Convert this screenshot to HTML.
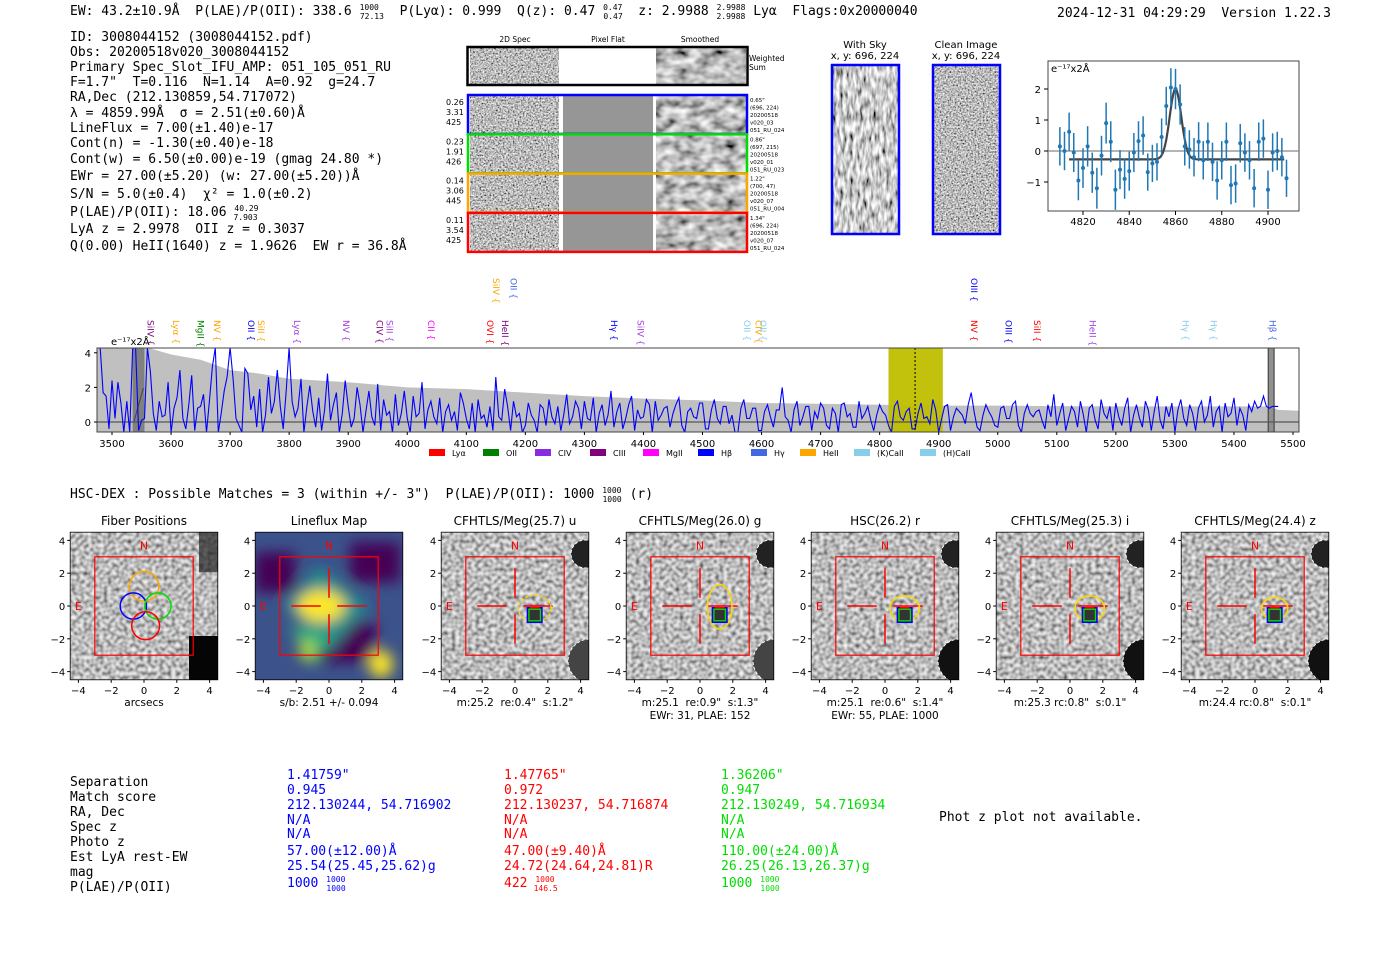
<!DOCTYPE html>
<html><head><meta charset="utf-8">
<style>
html,body{margin:0;padding:0;background:#fff;}
svg{display:block;font-family:"DejaVu Sans Mono","Liberation Mono",monospace;}
.s{font-family:"DejaVu Sans","Liberation Sans",sans-serif;}
</style></head>
<body>
<svg id="fig" width="1400" height="953" viewBox="0 0 1400 953" xmlns="http://www.w3.org/2000/svg">
<defs>
<filter id="gn" x="0" y="0" width="100%" height="100%"><feTurbulence type="fractalNoise" baseFrequency="0.6" numOctaves="2" seed="5" result="t"/><feColorMatrix in="t" type="matrix" values="1.6 0 0 0 -0.3  1.6 0 0 0 -0.3  1.6 0 0 0 -0.3  0 0 0 0 1"/><feColorMatrix type="saturate" values="0"/></filter>
<filter id="gs" x="0" y="0" width="100%" height="100%"><feTurbulence type="fractalNoise" baseFrequency="0.08 0.12" numOctaves="2" seed="8"/><feColorMatrix type="matrix" values="1.4 0 0 0 -0.2  1.4 0 0 0 -0.2  1.4 0 0 0 -0.2  0 0 0 0 1"/><feColorMatrix type="saturate" values="0"/></filter>
<filter id="gp" x="0" y="0" width="100%" height="100%"><feTurbulence type="fractalNoise" baseFrequency="0.25" numOctaves="1" seed="11"/><feColorMatrix type="matrix" values="1.3 0 0 0 -0.15  1.3 0 0 0 -0.15  1.3 0 0 0 -0.15  0 0 0 0 1"/><feColorMatrix type="saturate" values="0"/></filter>
<filter id="sky" x="0" y="0" width="100%" height="100%"><feTurbulence type="fractalNoise" baseFrequency="0.3 0.09" numOctaves="2" seed="2"/><feColorMatrix type="matrix" values="1.8 0 0 0 -0.3  1.8 0 0 0 -0.3  1.8 0 0 0 -0.3  0 0 0 0 1"/><feColorMatrix type="saturate" values="0"/></filter>
<filter id="bl"><feGaussianBlur stdDeviation="7"/></filter>
</defs>

<g font-size="13">
<text x="70" y="15">EW: 43.2±10.9Å &#160;P(LAE)/P(OII): 338.6 <tspan font-size="8" dy="-5">1000</tspan><tspan font-size="8" dx="-19" dy="9">72.13</tspan><tspan dy="-4"> &#160;P(Lyα): 0.999 &#160;Q(z): 0.47 </tspan><tspan font-size="8" dy="-5">0.47</tspan><tspan font-size="8" dx="-19" dy="9">0.47</tspan><tspan dy="-4"> &#160;z: 2.9988 </tspan><tspan font-size="8" dy="-5">2.9988</tspan><tspan font-size="8" dx="-29" dy="9">2.9988</tspan><tspan dy="-4"> Lyα &#160;Flags:0x20000040</tspan></text>
<text x="1057" y="17">2024-12-31 04:29:29 &#160;Version 1.22.3</text>
</g>
<g font-size="13">
<text x="70" y="41">ID: 3008044152 (3008044152.pdf)</text>
<text x="70" y="56">Obs: 20200518v020_3008044152</text>
<text x="70" y="71">Primary Spec_Slot_IFU_AMP: 051_105_051_RU</text>
<text x="70" y="86">F=1.7" &#160;T=0.116 &#160;N=1.14 &#160;A=0.92 &#160;g=24.7</text>
<text x="70" y="101">RA,Dec (212.130859,54.717072)</text>
<text x="70" y="117">λ = 4859.99Å &#160;σ = 2.51(±0.60)Å</text>
<text x="70" y="132">LineFlux = 7.00(±1.40)e-17</text>
<text x="70" y="147">Cont(n) = -1.30(±0.40)e-18</text>
<text x="70" y="163">Cont(w) = 6.50(±0.00)e-19 (gmag 24.80 *)</text>
<text x="70" y="180">EWr = 27.00(±5.20) (w: 27.00(±5.20))Å</text>
<text x="70" y="198">S/N = 5.0(±0.4) &#160;χ² = 1.0(±0.2)</text>
<text x="70" y="216">P(LAE)/P(OII): 18.06 <tspan font-size="8" dy="-5">40.29</tspan><tspan font-size="8" dx="-25" dy="9">7.903</tspan></text>
<text x="70" y="233">LyA z = 2.9978 &#160;OII z = 0.3037</text>
<text x="70" y="250">Q(0.00) HeII(1640) z = 1.9626 &#160;EW r = 36.8Å</text>
</g>

<g class="s" font-size="7.5">
<text x="515" y="42" text-anchor="middle">2D Spec</text>
<text x="608" y="42" text-anchor="middle">Pixel Flat</text>
<text x="700" y="42" text-anchor="middle">Smoothed</text>
<rect x="470" y="48" width="89" height="36" filter="url(#gn)"/>
<rect x="656" y="48" width="90" height="36" filter="url(#gs)"/>
<rect x="467.5" y="47" width="280" height="38" fill="none" stroke="#000" stroke-width="2.5"/>
<text x="749" y="61">Weighted</text><text x="749" y="70">Sum</text>
<g id="rows"></g>
</g>

<g class="s" font-size="10">
<text x="865" y="48" text-anchor="middle">With Sky</text>
<text x="865" y="59" text-anchor="middle">x, y: 696, 224</text>
<rect x="832" y="65" width="67" height="169" filter="url(#sky)"/>
<rect x="832" y="65" width="67" height="169" fill="none" stroke="#00f" stroke-width="2.5"/>
<text x="966" y="48" text-anchor="middle">Clean Image</text>
<text x="966" y="59" text-anchor="middle">x, y: 696, 224</text>
<rect x="933" y="65" width="67" height="169" filter="url(#gn)"/>
<rect x="933" y="65" width="67" height="169" fill="none" stroke="#00f" stroke-width="2.5"/>
</g>

<g id="zoomplot" class="s"></g>
<g id="spec" class="s"></g>

<text x="70" y="498" font-size="13">HSC-DEX : Possible Matches = 3 (within +/- 3") &#160;P(LAE)/P(OII): 1000 <tspan font-size="8" dy="-5">1000</tspan><tspan font-size="8" dx="-19" dy="9">1000</tspan><tspan dy="-4"> (r)</tspan></text>
<g id="cutouts" class="s"></g>

<g font-size="13">
<g>
<text x="70" y="786">Separation</text><text x="70" y="801">Match score</text><text x="70" y="816">RA, Dec</text><text x="70" y="831">Spec z</text><text x="70" y="846">Photo z</text><text x="70" y="861">Est LyA rest-EW</text><text x="70" y="876">mag</text><text x="70" y="891">P(LAE)/P(OII)</text>
</g>
<g fill="#0000ff">
<text x="287" y="779">1.41759"</text><text x="287" y="794">0.945</text><text x="287" y="809">212.130244, 54.716902</text><text x="287" y="824">N/A</text><text x="287" y="838">N/A</text><text x="287" y="855">57.00(±12.00)Å</text><text x="287" y="870">25.54(25.45,25.62)g</text><text x="287" y="887">1000 <tspan font-size="8" dy="-5">1000</tspan><tspan font-size="8" dx="-19" dy="9">1000</tspan></text>
</g>
<g fill="#ff0000">
<text x="504" y="779">1.47765"</text><text x="504" y="794">0.972</text><text x="504" y="809">212.130237, 54.716874</text><text x="504" y="824">N/A</text><text x="504" y="838">N/A</text><text x="504" y="855">47.00(±9.40)Å</text><text x="504" y="870">24.72(24.64,24.81)R</text><text x="504" y="887">422 <tspan font-size="8" dy="-5">1000</tspan><tspan font-size="8" dx="-21" dy="9">146.5</tspan></text>
</g>
<g fill="#00dd00">
<text x="721" y="779">1.36206"</text><text x="721" y="794">0.947</text><text x="721" y="809">212.130249, 54.716934</text><text x="721" y="824">N/A</text><text x="721" y="838">N/A</text><text x="721" y="855">110.00(±24.00)Å</text><text x="721" y="870">26.25(26.13,26.37)g</text><text x="721" y="887">1000 <tspan font-size="8" dy="-5">1000</tspan><tspan font-size="8" dx="-19" dy="9">1000</tspan></text>
</g>
<text x="939" y="821">Phot z plot not available.</text>
</g>
</svg>

<script>
const fitWave = [4810,4812,4814,4816,4818,4820,4822,4824,4826,4828,4830,4832,4834,4836,4838,4840,4842,4844,4846,4848,4850,4852,4854,4856,4858,4860,4862,4864,4866,4868,4870,4872,4874,4876,4878,4880,4882,4884,4886,4888,4890,4892,4894,4896,4898,4900,4902,4904,4906,4908];
const fitFlux = [0.15,0.0,0.62,-0.05,-0.95,-0.55,0.15,-0.7,-1.2,-0.15,0.9,0.3,-1.25,-0.6,-0.9,-0.65,-0.05,0.32,0.5,-0.68,-0.4,-0.35,0.45,1.45,2.05,2.0,1.5,0.15,0.05,-0.2,0.3,-0.3,0.3,-0.35,-0.95,-0.3,0.3,-1.1,-1.05,0.25,-0.05,-0.3,-1.2,0.3,0.4,-1.25,-0.05,0.0,-0.2,-0.88];
const fitErr = [0.62,0.62,0.62,0.63,0.64,0.64,0.65,0.65,0.66,0.64,0.66,0.66,0.65,0.63,0.64,0.63,0.63,0.64,0.62,0.6,0.6,0.6,0.6,0.62,0.62,0.65,0.65,0.62,0.62,0.62,0.63,0.62,0.62,0.62,0.62,0.62,0.62,0.62,0.62,0.62,0.62,0.62,0.62,0.62,0.62,0.62,0.62,0.62,0.62,0.6];
const fitModel = {cont:-0.27, amp:2.27, mu:4860, sigma:2.51, lo:4814, hi:4907};
const fitXTicks = [4820,4840,4860,4880,4900];
const fitYTicks = [-1,0,1,2];

const specStart = 3480, specStep = 5;
const specFlux = [4.3,1.7,1.5,-0.4,2.4,0.2,2.3,1.1,-0.6,1.2,-0.6,4.3,4.3,-0.5,0.1,0.2,
 4.3,2.9,0.5,-0.5,1.2,0.3,0.4,2.3,-0.6,0.8,1.4,3.0,0.2,-0.4,1.0,2.7,
 -0.5,0.8,0.9,1.6,-0.6,1.2,3.2,4.3,-0.6,0.5,1.8,2.6,4.3,2.5,0.2,-0.2,
 -0.6,3.1,2.8,0.7,1.5,-0.3,1.9,-0.6,0.4,2.6,0.5,1.2,3.0,0.9,-0.4,1.8,
 4.3,1.2,0.3,0.8,2.5,-0.6,0.9,2.1,0.6,-0.3,1.4,-0.5,0.7,2.8,0.1,1.0,
 1.7,-0.6,0.5,2.4,0.9,-0.3,0.2,2.0,1.0,-0.6,0.6,1.8,0.3,-0.2,2.2,-0.5,
 1.3,0.4,0.6,-0.6,1.6,-0.2,0.5,1.8,0.2,-0.6,1.5,0.3,0.5,2.3,-0.4,0.7,
 1.2,0.3,-0.1,1.4,-0.6,0.6,1.0,0.1,0.6,-0.5,1.7,1.1,0.2,-0.4,1.1,-0.6,
 1.3,0.2,0.4,-0.3,0.9,-0.5,2.6,0.3,0.1,1.9,0.9,-0.5,1.2,0.3,0.5,-0.6,
 -0.2,1.1,0.4,0.1,-0.6,1.0,0.8,-0.2,1.3,0.3,-0.1,0.9,-0.5,0.4,1.6,-0.1,
 0.3,1.2,0.8,-0.4,1.2,0.2,0.1,1.4,-0.6,0.5,1.0,-0.2,0.4,1.8,-0.3,0.6,
 1.1,-0.4,0.2,1.0,1.5,-0.5,0.7,0.2,0.3,1.3,1.0,-0.6,1.2,0.1,0.4,0.8,
 0.9,-0.3,0.5,1.0,1.4,-0.2,-0.6,0.6,0.8,0.3,0.2,1.1,1.1,-0.4,-0.4,0.7,
 1.3,0.2,-0.1,0.9,0.9,-0.1,0.4,-0.6,-0.6,0.8,1.3,0.2,0.2,0.8,0.8,-0.5,
 -0.5,0.6,1.0,0.3,-0.3,0.7,0.7,2.0,0.3,0.1,-0.6,0.7,1.2,-0.2,0.3,0.9,
 0.9,-0.5,0.6,0.2,1.1,0.8,-0.2,-0.4,0.8,0.5,-0.6,1.0,1.1,0.3,0.5,-0.3,
 -0.3,1.2,0.2,0.5,0.9,0.1,-0.5,0.4,1.0,0.6,0.4,-0.2,-0.6,0.9,1.2,0.3,
 0.1,0.6,0.8,-0.4,-0.4,0.5,1.1,0.2,0.3,-0.1,1.3,0.7,-0.6,0.2,0.9,1.0,
 -0.5,0.3,0.8,0.6,0.4,-0.1,1.0,1.7,0.6,-0.3,-0.5,0.4,1.0,0.6,0.3,-0.2,
 -0.3,0.8,0.9,0.2,0.2,1.0,1.2,-0.2,-0.6,0.5,1.0,0.5,0.3,0.6,0.7,0.1,
 -0.4,1.0,0.3,1.6,-0.2,0.5,1.1,-0.5,0.2,0.9,0.6,-0.3,1.2,0.4,-0.6,0.8,
 1.0,0.1,-0.4,1.3,0.5,0.2,0.9,-0.5,1.1,0.3,-0.2,0.8,1.4,-0.6,0.4,1.0,
 0.2,-0.3,1.2,0.7,-0.5,0.6,1.5,0.1,-0.4,0.9,0.3,1.1,-0.6,0.7,1.3,0.2,
 -0.2,1.0,0.5,-0.5,0.8,1.2,0.0,0.4,1.5,-0.3,0.6,0.9,-0.6,1.1,0.3,0.5,
 1.4,-0.2,0.8,0.4,-0.5,1.0,0.6,1.2,0.8,0.9,1.5,0.9,0.8,0.9,0.9,0.9];
const errWave = [3475,3560,3600,3650,3700,3750,3800,3850,3900,4000,4100,4200,4300,4400,4500,4600,4700,4800,4900,5000,5100,5200,5300,5400,5460,5475,5511];
const errVal  = [4.3,4.3,3.9,3.6,3.0,2.8,2.5,2.4,2.3,2.0,1.9,1.7,1.5,1.35,1.25,1.1,1.05,1.0,0.95,0.95,0.92,0.9,0.9,0.9,0.9,0.7,0.65];
const specXTicks = [3500,3600,3700,3800,3900,4000,4100,4200,4300,4400,4500,4600,4700,4800,4900,5000,5100,5200,5300,5400,5500];
const specYTicks = [0,2,4];
const lineWave  = [3555,3598,3640,3668,3725,3742,3803,3886,3943,3960,4030,4130,4140,4170,4155,4340,4385,4565,4585,4592,4950,4950,5008,5056,5150,5308,5355,5455];
const lineName  = ["SiIV","Lyα","MgII","NV","OII","SiII","Lyα","NV","CIV","SiII","CII","OVI","SiIV","OII","HeII","Hγ","SiIV","OII","CIV","OII","NV","OIII","OIII","SiII","HeII","Hγ","Hγ","Hβ"];
const lineColor = ["#7b007b","#ffa500","#008000","#ffa500","#0000ff","#ffa500","#a040e0","#a040e0","#7b007b","#a040e0","#ff00ff","#ff0000","#ffa500","#4169e1","#7b007b","#0000ff","#a040e0","#87ceeb","#ffa500","#87ceeb","#ff0000","#0000ff","#0000ff","#ff0000","#a040e0","#87ceeb","#87ceeb","#4169e1"];
const lineTier  = [0,0,0,0,0,0,0,0,0,0,0,0,1,1,0,0,0,0,0,0,0,1,0,0,0,0,0,0];
const legendName = ["Lyα","OII","CIV","CIII","MgII","Hβ","Hγ","HeII","(K)CaII","(H)CaII"];
const legendColor = ["#ff0000","#008000","#8a2be2","#800080","#ff00ff","#0000ff","#4169e1","#ffa500","#87ceeb","#87ceeb"];

const cutTitles = ["Fiber Positions","Lineflux Map","CFHTLS/Meg(25.7) u","CFHTLS/Meg(26.0) g","HSC(26.2) r","CFHTLS/Meg(25.3) i","CFHTLS/Meg(24.4) z"];
const cutLabel1 = ["arcsecs","s/b: 2.51 +/- 0.094","m:25.2\u00a0 re:0.4\"\u00a0 s:1.2\"","m:25.1\u00a0 re:0.9\"\u00a0 s:1.3\"","m:25.1\u00a0 re:0.6\"\u00a0 s:1.4\"","m:25.3 rc:0.8\"\u00a0 s:0.1\"","m:24.4 rc:0.8\"\u00a0 s:0.1\""];
const cutLabel2 = ["","","","EWr: 31, PLAE: 152","EWr: 55, PLAE: 1000","",""];
const cutTicks = [-4,-2,0,2,4];

const NS="http://www.w3.org/2000/svg";
function mk(parent,tag,attrs,txt){const e=document.createElementNS(NS,tag);for(const k in attrs)e.setAttribute(k,attrs[k]);if(txt!==undefined)e.textContent=txt;parent.appendChild(e);return e;}

(function(){
 const g=document.getElementById('rows');
 const rowCol=["#0000ff","#00dd00","#ffa500","#ff0000"];
 const rowL=[["0.26","3.31","425"],["0.23","1.91","426"],["0.14","3.06","445"],["0.11","3.54","425"]];
 const rowR=[["0.65\"","(696, 224)","20200518","v020_03","051_RU_024"],["0.86\"","(697, 215)","20200518","v020_01","051_RU_023"],["1.22\"","(700, 47)","20200518","v020_07","051_RU_004"],["1.34\"","(696, 224)","20200518","v020_07","051_RU_024"]];
 for(let i=0;i<4;i++){
  const y=95+i*39.3;
  const r=mk(g,'g',{});
  
  
  mk(r,'rect',{x:470,y:y,width:89,height:39,filter:'url(#gn)'});
  mk(r,'rect',{x:563,y:y,width:90,height:39,fill:'#969696'});
  mk(r,'rect',{x:656,y:y,width:90,height:39,filter:'url(#gs)'});
  mk(r,'rect',{x:468,y:y,width:279,height:39,fill:'none',stroke:rowCol[i],'stroke-width':2.5});
  rowL[i].forEach((t,j)=>mk(r,'text',{x:446,y:y+10+j*10,'font-size':8},t));
  rowR[i].forEach((t,j)=>mk(r,'text',{x:750,y:y+7+j*7.5,'font-size':5.5},t));
 }
})();

(function(){
 const g=document.getElementById('zoomplot');
 const X0=1048,X1=1299,Y0=61,Y1=211;
 const sx=w=>1083+(w-4820)*(1268-1083)/80;
 const sy=v=>151-v*31;
 mk(g,'rect',{x:X0,y:Y0,width:X1-X0,height:Y1-Y0,fill:'#fff',stroke:'#444','stroke-width':1});
 mk(g,'line',{x1:X0,x2:X1,y1:sy(0),y2:sy(0),stroke:'#888','stroke-width':1.2});
 fitXTicks.forEach(t=>{mk(g,'line',{x1:sx(t),x2:sx(t),y1:Y1,y2:Y1+4,stroke:'#000'});const e=mk(g,'text',{x:sx(t),y:Y1+14,'font-size':10,'text-anchor':'middle'},String(t));});
 fitYTicks.forEach(t=>{mk(g,'line',{x1:X0-4,x2:X0,y1:sy(t),y2:sy(t),stroke:'#000'});mk(g,'text',{x:X0-7,y:sy(t)+4,'font-size':10,'text-anchor':'end'},t<0?'−'+(-t):String(t));});
 mk(g,'text',{x:X0+3,y:Y0+11,'font-size':10},'e⁻¹⁷x2Å');
 let d='';
 for(let w=fitModel.lo;w<=fitModel.hi;w+=0.5){const v=fitModel.cont+fitModel.amp*Math.exp(-0.5*Math.pow((w-fitModel.mu)/fitModel.sigma,2));d+=(d?'L':'M')+sx(w).toFixed(1)+','+sy(v).toFixed(1);}
 const m=mk(g,'path',{d:d,fill:'none',stroke:'#444','stroke-width':2.2});
 
 fitWave.forEach((w,i)=>{
  const x=sx(w);
  const a=Math.max(Y0,sy(fitFlux[i]+fitErr[i])), b=Math.min(Y1,sy(fitFlux[i]-fitErr[i]));
  const p=mk(g,'line',{x1:x,x2:x,y1:a,y2:b,stroke:'#1f77b4','stroke-width':1.5});
  
  const c=mk(g,'circle',{cx:x,cy:sy(fitFlux[i]),r:2,fill:'#1f77b4'});
  
 });
})();

(function(){
 const g=document.getElementById('spec');
 const X0=97,X1=1299,Y0=348,Y1=432;
 const sx=w=>112+(w-3500)*(1293-112)/2000;
 const sy=v=>422-v*17.3;
 mk(g,'rect',{x:X0,y:Y0,width:X1-X0,height:Y1-Y0,fill:'#fff'});
 const cp=mk(document.querySelector('defs'),'clipPath',{id:'spc'});
 mk(cp,'rect',{x:X0,y:Y0,width:X1-X0,height:Y1-Y0});
 const body=mk(g,'g',{'clip-path':'url(#spc)'});
 let d='M'+sx(errWave[0])+','+Y1;
 errWave.forEach((w,i)=>{d+='L'+sx(w).toFixed(1)+','+sy(errVal[i]).toFixed(1);});
 d+='L'+sx(errWave[errWave.length-1])+','+Y1+'Z';
 const env=mk(body,'path',{d:d,fill:'#c0c0c0'});
 
 const yb=mk(body,'rect',{x:sx(4815),y:Y0,width:sx(4907)-sx(4815),height:Y1-Y0,fill:'#bfbf00','fill-opacity':0.95});
 
 mk(body,'rect',{x:sx(3535),y:Y0,width:sx(3555)-sx(3535),height:Y1-Y0,fill:'#808080'});
 mk(body,'line',{x1:sx(3537),y1:Y1-10,x2:sx(3553),y2:Y0+40,stroke:'#444'});
 mk(body,'rect',{x:sx(5458),y:Y0,width:sx(5468)-sx(5458),height:Y1-Y0,fill:'#909090',stroke:'#333'});
 mk(body,'line',{x1:X0,x2:X1,y1:sy(0),y2:sy(0),stroke:'#555','stroke-width':1.3});
 let f='';
 specFlux.forEach((v,i)=>{const w=specStart+i*specStep;f+=(f?'L':'M')+sx(w).toFixed(1)+','+sy(v).toFixed(1);});
 const fl=mk(body,'path',{d:f,fill:'none',stroke:'#0000ff','stroke-width':1.1});
 
 mk(body,'line',{x1:sx(4860),x2:sx(4860),y1:Y0,y2:Y1,stroke:'#000','stroke-dasharray':'2,2'});
 mk(g,'rect',{x:X0,y:Y0,width:X1-X0,height:Y1-Y0,fill:'none',stroke:'#444'});
 specXTicks.forEach(t=>{mk(g,'line',{x1:sx(t),x2:sx(t),y1:Y1,y2:Y1+3,stroke:'#000'});const e=mk(g,'text',{x:sx(t),y:Y1+15,'font-size':10,'text-anchor':'middle'},String(t));});
 specYTicks.forEach(t=>{mk(g,'line',{x1:X0-3,x2:X0,y1:sy(t),y2:sy(t),stroke:'#000'});mk(g,'text',{x:X0-6,y:sy(t)+4,'font-size':10,'text-anchor':'end'},String(t));});
 mk(g,'text',{x:X0+14,y:Y0-3,'font-size':10},'e⁻¹⁷x2Å');
 lineWave.forEach((w,i)=>{
  const x=sx(w), yb=lineTier[i]?304:345;
  const t=mk(g,'text',{x:0,y:0,'font-size':9,fill:lineColor[i],transform:`translate(${x+3},${yb}) rotate(90) translate(-${yb-(lineTier[i]?278:320)},0)`},lineName[i]+' {');
  
 });
 const lx=[429,483,535,590,643,698,751,800,854,920];
 legendName.forEach((n,i)=>{
  const r=mk(g,'rect',{x:lx[i],y:449,width:16,height:7,fill:legendColor[i]});
  
  const t=mk(g,'text',{x:lx[i]+23,y:456,'font-size':8},n);
  
 });
})();

(function(){
 const g=document.getElementById('cutouts');
 const cx=[144,329,515,700,885,1070,1255];
 const sc=16.4, cy=606;
 cx.forEach((c,i)=>{
  const p=mk(g,'g',{});
  
  
  const x0=c-4.5*sc, y0=cy-4.5*sc, s=9*sc;
  const clipId='cc'+i;
  const cp=mk(document.querySelector('defs'),'clipPath',{id:clipId});
  mk(cp,'rect',{x:x0,y:y0,width:s,height:s});
  const b=mk(p,'g',{'clip-path':'url(#'+clipId+')'});
  if(i===1){
   mk(b,'rect',{x:x0,y:y0,width:s,height:s,fill:'#3b528b'});
   const bb=mk(b,'g',{filter:'url(#bl)'});
   mk(bb,'rect',{x:x0,y:y0+20,width:40,height:40,fill:'#440154'});
   mk(bb,'rect',{x:x0+60,y:y0+90,width:60,height:40,fill:'#440154'});
   mk(bb,'rect',{x:x0+95,y:y0+10,width:50,height:40,fill:'#440154'});
   mk(bb,'polygon',{points:`${c-10},${cy-40} ${c+40},${cy} ${c},${cy+45} ${c-45},${cy}`,fill:'#21918c'});
   mk(bb,'polygon',{points:`${c-40},${cy+20} ${c},${cy+30} ${c-15},${cy+60}`,fill:'#35b779'});
   mk(bb,'ellipse',{cx:c-8,cy:cy,rx:24,ry:16,fill:'#fde725'});
   mk(bb,'ellipse',{cx:c-22,cy:cy+45,rx:8,ry:10,fill:'#b5de2b'});
   mk(bb,'ellipse',{cx:c+52,cy:cy+58,rx:12,ry:14,fill:'#fde725'});
  } else {
   mk(b,'rect',{x:x0,y:y0,width:s,height:s,filter:'url(#gp)'});
   if(i===0){mk(b,'rect',{x:c+45,y:cy+30,width:40,height:50,fill:'#050505'});mk(b,'rect',{x:c+55,y:y0,width:20,height:40,fill:'#222','opacity':0.7});}
   else{mk(b,'circle',{cx:c+70,cy:cy-52,r:14,fill:'#222',stroke:'#fff','stroke-dasharray':'3,2'});mk(b,'circle',{cx:c+75,cy:cy+55,r:22,fill:i>3?'#111':'#444',stroke:'#fff','stroke-dasharray':'3,2'});}
  }
  mk(p,'rect',{x:x0,y:y0,width:s,height:s,fill:'none',stroke:'#000','stroke-width':0.8});
  mk(p,'rect',{x:c-3*sc,y:cy-3*sc,width:6*sc,height:6*sc,fill:'none',stroke:'#ff0000','stroke-width':1.2});
  mk(p,'text',{x:c,y:cy-4*sc+9,'font-size':11,fill:'#ff0000','text-anchor':'middle'},'N');
  mk(p,'text',{x:c-4*sc,y:cy+4,'font-size':11,fill:'#ff0000','text-anchor':'middle'},'E');
  if(i>=1){
   mk(p,'line',{x1:c-2.3*sc,x2:c-0.5*sc,y1:cy,y2:cy,stroke:'#ff0000','stroke-width':1.5});
   mk(p,'line',{x1:c+0.5*sc,x2:c+2.3*sc,y1:cy,y2:cy,stroke:'#ff0000','stroke-width':1.5});
   mk(p,'line',{x1:c,x2:c,y1:cy-2.3*sc,y2:cy-0.5*sc,stroke:'#ff0000','stroke-width':1.5});
   mk(p,'line',{x1:c,x2:c,y1:cy+0.5*sc,y2:cy+2.3*sc,stroke:'#ff0000','stroke-width':1.5});
  }
  if(i===0){
   mk(p,'ellipse',{cx:c,cy:cy-1.2*sc,rx:0.9*sc,ry:0.9*sc,fill:'none',stroke:'#ffa500','stroke-width':1.5});
   mk(p,'ellipse',{cx:c-0.65*sc,cy:cy,rx:0.8*sc,ry:0.8*sc,fill:'none',stroke:'#0000ff','stroke-width':1.5});
   mk(p,'ellipse',{cx:c+0.85*sc,cy:cy,rx:0.8*sc,ry:0.8*sc,fill:'none',stroke:'#00dd00','stroke-width':1.5});
   mk(p,'ellipse',{cx:c+0.1*sc,cy:cy+1.2*sc,rx:0.85*sc,ry:0.85*sc,fill:'none',stroke:'#ff0000','stroke-width':1.5});
  }
  if(i>=2){
   const ex=c+1.2*sc, ey=cy+0.55*sc;
   const ell=[[1.0,0.9],[0.75,1.5],[0.9,0.85],[0.9,0.85],[0.8,0.75]][i-2];
   mk(p,'ellipse',{cx:ex,cy:ey-(i===3?0.5*sc:0.4*sc),rx:ell[0]*sc,ry:ell[1]*sc*0.9,fill:'none',stroke:'#ffd700','stroke-width':1.5,'stroke-dasharray':i===2?'3,2':''});
   mk(p,'rect',{x:ex-0.45*sc,y:ey-0.45*sc,width:0.9*sc,height:0.9*sc,fill:'#333',stroke:'#0000ff','stroke-width':1.3});
   mk(p,'rect',{x:ex-0.35*sc,y:ey-0.35*sc,width:0.7*sc,height:0.7*sc,fill:'none',stroke:'#00dd00','stroke-width':1.3});
   mk(p,'line',{x1:ex-0.3*sc,x2:ex+0.3*sc,y1:ey-0.45*sc,y2:ey-0.45*sc,stroke:'#ff0000','stroke-width':1.5});
  }
  cutTicks.forEach(t=>{
   mk(p,'line',{x1:c+t*sc,x2:c+t*sc,y1:y0+s,y2:y0+s+3,stroke:'#000'});
   mk(p,'text',{x:c+t*sc,y:y0+s+14,'font-size':10,'text-anchor':'middle'},t<0?'−'+(-t):String(t));
   mk(p,'line',{x1:x0-3,x2:x0,y1:cy-t*sc,y2:cy-t*sc,stroke:'#000'});
   mk(p,'text',{x:x0-5,y:cy-t*sc+4,'font-size':10,'text-anchor':'end'},t<0?'−'+(-t):String(t));
  });
  const tt=mk(p,'text',{x:c,y:y0-7,'font-size':12,'text-anchor':'middle'},cutTitles[i]);
  
  mk(p,'text',{x:c,y:706,'font-size':10.5,'text-anchor':'middle'},cutLabel1[i]);
  if(cutLabel2[i])mk(p,'text',{x:c,y:719,'font-size':10.5,'text-anchor':'middle'},cutLabel2[i]);
 });
})();
</script>
</body></html>
